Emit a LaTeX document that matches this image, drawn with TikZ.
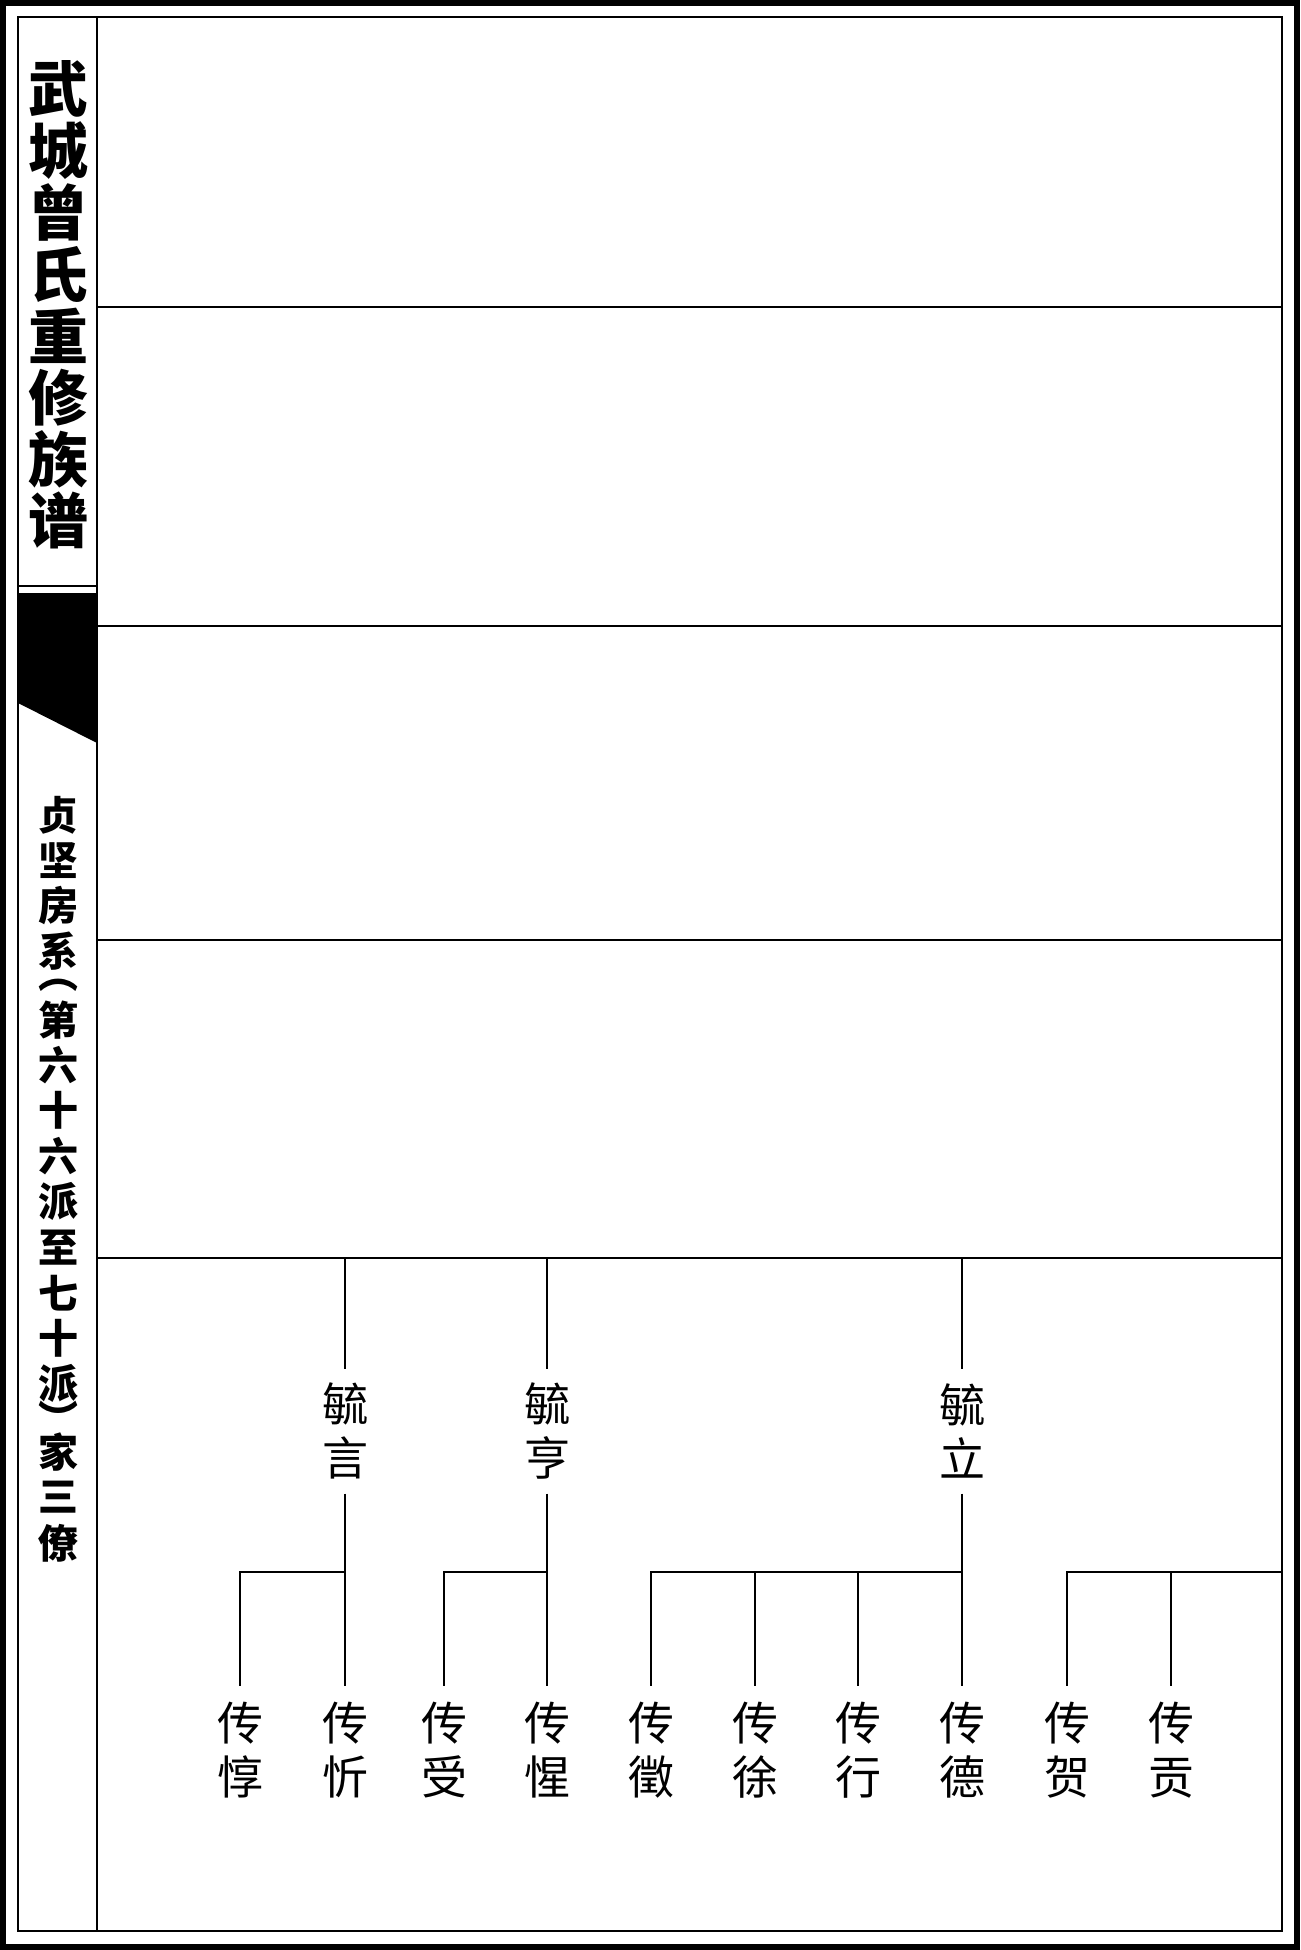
\documentclass[tikz,border=0pt]{standalone}
\usepackage{fontspec}
\newfontfamily\cjk{Noto Sans CJK SC}
\begin{document}
\begin{tikzpicture}[x=0.4pt,y=-0.4pt,
  frame/.style={line width=0.8pt},
  rowrule/.style={line width=1pt},
  link/.style={line width=0.8pt},
  person/.style={font=\cjk\fontsize{18.4pt}{21.8pt}\selectfont, align=center, inner sep=0pt, minimum width=20pt},
  parent/.style={person, minimum height=49.6pt},
  child/.style={person, minimum height=51.2pt},
  titlechar/.style={font=\cjk\bfseries\fontsize{24pt}{24pt}\selectfont, inner sep=0pt},
  subchar/.style={font=\cjk\bfseries\fontsize{16pt}{16pt}\selectfont, inner sep=0pt}]
\useasboundingbox (0,0) rectangle (1300,1950);
\fill[white] (0,0) rectangle (1300,1950);
% frames
\draw[line width=2.4pt] (3,3) rectangle (1297,1947);
\draw[frame] (18,17) rectangle (1282,1931);
\draw[frame] (97,17) -- (97,1931);
\foreach \y in {307,626,940,1258} \draw[rowrule] (97,\y) -- (1282,\y);
% left column
\draw[frame] (18,586) -- (97,586);
\fill (18,593) -- (97,593) -- (97,743) -- (18,703) -- cycle;
\foreach \c [count=\i] in {武,城,曾,氏,重,修,族,谱}
  \node[titlechar] (t\i) at (58,{89+61.7*(\i-1)}) {\c};
\foreach \c/\yy [count=\i] in {贞/815,坚/860.5,房/906,系/951.5,︵/985.6,第/1019.75,六/1065.25,十/1110.75,六/1156.25,派/1201.75,至/1247.25,七/1292.75,十/1338.25,派/1383.75,︶/1417.9,家/1452,三/1497.5,僚/1543}
  \node[subchar] (s\i) at (58,\yy) {\c};
% tree
\coordinate (r1) at (345,1258);
\coordinate (r2) at (547,1258);
\coordinate (r3) at (962,1258);
\node[parent] (p1) at (345,1431) {毓\\言};
\node[parent] (p2) at (547,1431) {毓\\亨};
\node[parent] (p3) at (962,1431) {毓\\立};
\node[child] (c1) at (240,1750) {传\\惇};
\node[child] (c2) at (345,1750) {传\\忻};
\node[child] (c3) at (444,1750) {传\\受};
\node[child] (c4) at (547,1750) {传\\惺};
\node[child] (c5) at (651,1750) {传\\徵};
\node[child] (c6) at (755,1750) {传\\徐};
\node[child] (c7) at (858,1750) {传\\行};
\node[child] (c8) at (962,1750) {传\\德};
\node[child] (c9) at (1067,1750) {传\\贺};
\node[child] (c10) at (1171,1750) {传\\贡};
\coordinate (b1) at (345,1572);
\coordinate (b2) at (547,1572);
\coordinate (b3) at (962,1572);
\coordinate (b4) at (1282,1572);
\draw[link] (r1) -- (p1.north);
\draw[link] (p1.south) -- (c2.north);
\draw[link] (c1.north) |- (b1);
\draw[link] (r2) -- (p2.north);
\draw[link] (p2.south) -- (c4.north);
\draw[link] (c3.north) |- (b2);
\draw[link] (r3) -- (p3.north);
\draw[link] (p3.south) -- (c8.north);
\draw[link] (c5.north) |- (b3);
\draw[link] (c6.north) -- (c6.north |- b3);
\draw[link] (c7.north) -- (c7.north |- b3);
\draw[link] (c9.north) |- (b4);
\draw[link] (c10.north) -- (c10.north |- b4);
\end{tikzpicture}
\end{document}
